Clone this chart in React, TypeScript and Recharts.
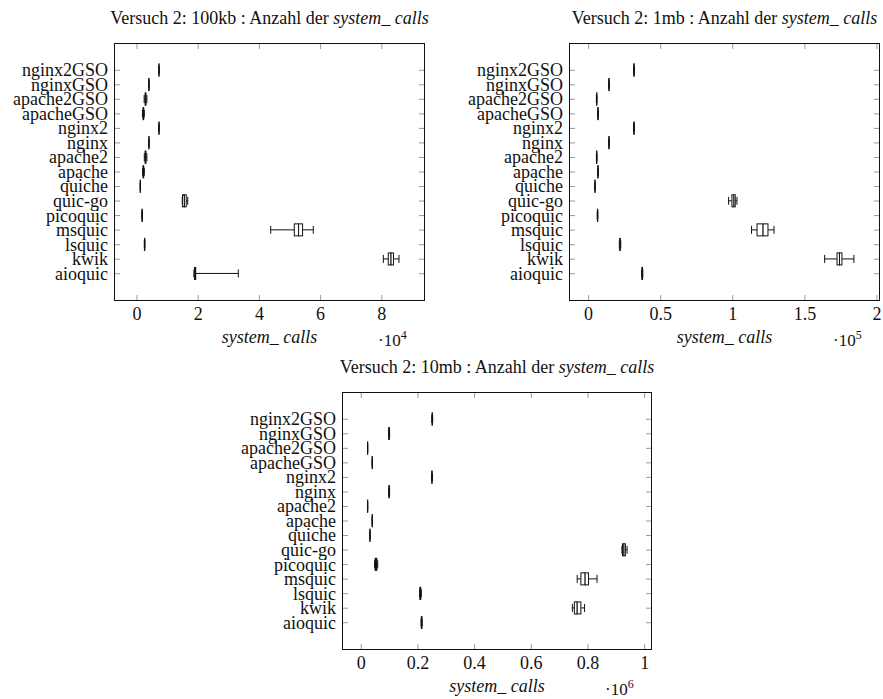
import { ComposedChart, Bar, XAxis, YAxis } from 'recharts'

const categories = [
  'nginx2GSO', 'nginxGSO', 'apache2GSO', 'apacheGSO', 'nginx2', 'nginx', 'apache2',
  'apache', 'quiche', 'quic-go', 'picoquic', 'msquic', 'lsquic', 'kwik', 'aioquic',
]

// min, q1, median, q3, max (same order as categories)
const calls100kb = [
  [7150, 7180, 7200, 7220, 7250],
  [3850, 3880, 3900, 3920, 3950],
  [2350, 2650, 2800, 2950, 3250],
  [1800, 2000, 2100, 2200, 2400],
  [7150, 7180, 7200, 7230, 7260],
  [3860, 3890, 3910, 3930, 3960],
  [2400, 2650, 2800, 2950, 3250],
  [1850, 2000, 2100, 2200, 2400],
  [1050, 1080, 1100, 1120, 1150],
  [14800, 14900, 15500, 16100, 16600],
  [1600, 1650, 1700, 1750, 1800],
  [43700, 51400, 52800, 54100, 57600],
  [2400, 2450, 2500, 2550, 2600],
  [80500, 82100, 83000, 83800, 85600],
  [18600, 18800, 18900, 19200, 33100],
]

const calls1mb = [
  [31200, 31350, 31500, 31650, 31800],
  [13900, 14000, 14100, 14200, 14300],
  [5400, 5500, 5600, 5700, 5800],
  [6300, 6400, 6500, 6600, 6700],
  [31200, 31350, 31500, 31650, 31800],
  [13900, 14000, 14100, 14200, 14300],
  [5400, 5500, 5600, 5700, 5800],
  [6300, 6400, 6500, 6600, 6700],
  [4300, 4350, 4400, 4450, 4500],
  [97100, 99400, 100800, 101700, 102900],
  [6000, 6100, 6200, 6300, 6400],
  [113000, 116800, 121000, 124400, 128600],
  [21300, 21600, 21800, 22000, 22300],
  [163700, 172300, 174000, 175700, 184000],
  [36800, 37000, 37200, 37400, 37600],
]

const calls10mb = [
  [249000, 250000, 250600, 251200, 252000],
  [96000, 97000, 98000, 99000, 100000],
  [21900, 22200, 22400, 22600, 22900],
  [38300, 38600, 38800, 39000, 39300],
  [248000, 249000, 249500, 250000, 251000],
  [96500, 97500, 98300, 99000, 100000],
  [21900, 22200, 22400, 22600, 22900],
  [38300, 38600, 38800, 39000, 39300],
  [30100, 30400, 30600, 30800, 31100],
  [920000, 922000, 927000, 932000, 938000],
  [47000, 49000, 52000, 55000, 58000],
  [762000, 775000, 790000, 802000, 832000],
  [206000, 207000, 208000, 210000, 212000],
  [745000, 752000, 762000, 775000, 788000],
  [211000, 212000, 213000, 214000, 215000],
]

const ticks100kb = [0, 20000, 40000, 60000, 80000]
const ticks1mb = [0, 50000, 100000, 150000, 200000]
const ticks10mb = [0, 200000, 400000, 600000, 800000, 1000000]

const FONT = "'Liberation Serif', 'Times New Roman', serif"
const INK = '#111'
const TICK = '#999'

function toRows(stats: number[][]) {
  return categories.map((name, i) => {
    const [min, q1, med, q3, max] = stats[i]
    return {
      name,
      base: min,
      lowWhisker: q1 - min,
      lowBox: med - q1,
      highBox: q3 - med,
      highWhisker: max - q3,
    }
  })
}

const whisker = (side: 'low' | 'high') => (props: any) => {
  const { x, y, width, height } = props
  const cy = y + height / 2
  const capX = side === 'low' ? x : x + width
  return (
    <g>
      <line x1={x} x2={x + width} y1={cy} y2={cy} stroke={INK} strokeWidth={1} />
      <line x1={capX} x2={capX} y1={cy - 4} y2={cy + 4} stroke={INK} strokeWidth={1} />
    </g>
  )
}

const boxPart = (props: any) => {
  const { x, y, width, height } = props
  return <rect x={x} y={y} width={width} height={height} fill="#fff" stroke={INK} strokeWidth={1} />
}

interface Frame { l: number; r: number; t: number; b: number }

interface PanelProps {
  title: string
  stats: number[][]
  ticks: number[]
  domain: [number, number]
  exp: number
  left: number
  top: number
  width: number
  height: number
  frame: Frame
}

function Panel({ title, stats, ticks, domain, exp, left, top, width, height, frame }: PanelProps) {
  const rows = toRows(stats)
  const div = Math.pow(10, exp)
  const cx = left + (frame.l + frame.r) / 2

  const xTick = (props: any) => {
    const { x, payload } = props
    const label = String(parseFloat((payload.value / div).toFixed(3)))
    return (
      <g>
        <line x1={x} x2={x} y1={frame.t} y2={frame.t + 6} stroke={TICK} />
        <line x1={x} x2={x} y1={frame.b - 6} y2={frame.b} stroke={TICK} />
        <text x={x} y={frame.b + 13} dy="0.35em" textAnchor="middle" fontFamily={FONT} fontSize={18} fill={INK}>
          {label}
        </text>
      </g>
    )
  }

  const yTick = (props: any) => {
    const { y, payload } = props
    return (
      <g>
        <line x1={frame.l} x2={frame.l + 6} y1={y} y2={y} stroke={TICK} />
        <line x1={frame.r - 6} x2={frame.r} y1={y} y2={y} stroke={TICK} />
        <text x={frame.l - 6} y={y} dy="0.33em" textAnchor="end" fontFamily={FONT} fontSize={18} fill={INK}>
          {payload.value}
        </text>
      </g>
    )
  }

  return (
    <>
      <div style={{ position: 'absolute', left, top, width, height }}>
        <ComposedChart
          layout="vertical"
          width={width}
          height={height}
          data={rows}
          margin={{ top: frame.t, right: width - frame.r, bottom: 0, left: 0 }}
        >
          <XAxis
            type="number"
            domain={domain}
            allowDataOverflow
            ticks={ticks}
            interval={0}
            height={height - frame.b}
            axisLine={false}
            tickLine={false}
            tick={xTick}
          />
          <YAxis
            type="category"
            dataKey="name"
            width={frame.l}
            padding={{ top: 20, bottom: 20 }}
            interval={0}
            axisLine={false}
            tickLine={false}
            tick={yTick}
          />
          <Bar dataKey="base" stackId="b" barSize={12} shape={() => <g />} isAnimationActive={false} />
          <Bar dataKey="lowWhisker" stackId="b" barSize={12} shape={whisker('low')} isAnimationActive={false} />
          <Bar dataKey="lowBox" stackId="b" barSize={12} shape={boxPart} isAnimationActive={false} />
          <Bar dataKey="highBox" stackId="b" barSize={12} shape={boxPart} isAnimationActive={false} />
          <Bar dataKey="highWhisker" stackId="b" barSize={12} shape={whisker('high')} isAnimationActive={false} />
        </ComposedChart>
      </div>
      <div
        style={{
          position: 'absolute',
          left: left + frame.l,
          top: top + frame.t,
          width: frame.r - frame.l,
          height: frame.b - frame.t,
          border: `1px solid ${INK}`,
          boxSizing: 'border-box',
          pointerEvents: 'none',
        }}
      />
      <div
        style={{
          position: 'absolute', left: cx - 250, width: 500, top: top + frame.t - 35,
          lineHeight: '20px', textAlign: 'center', fontFamily: FONT, fontSize: 18, color: INK,
          whiteSpace: 'nowrap',
        }}
      >
        {title}<i>system_ calls</i>
      </div>
      <div
        style={{
          position: 'absolute', left: cx - 100, width: 200, top: top + frame.b + 26,
          lineHeight: '20px', textAlign: 'center', fontFamily: FONT, fontSize: 18, color: INK,
        }}
      >
        <i>system_ calls</i>
      </div>
      <div
        style={{
          position: 'absolute', left: left + frame.r - 47, top: top + frame.b + 30,
          lineHeight: '20px', fontFamily: FONT, fontSize: 17, color: INK, whiteSpace: 'nowrap',
        }}
      >
        ·10<span style={{ fontSize: 12, position: 'relative', top: -7 }}>{exp}</span>
      </div>
    </>
  )
}

export default function App() {
  return (
    <div
      style={{
        position: 'absolute', left: 0, top: 0, width: 883, height: 699,
        overflow: 'hidden', background: '#fff',
      }}
    >
      <Panel
        title="Versuch 2: 100kb : Anzahl der "
        stats={calls100kb}
        ticks={ticks100kb}
        domain={[-7500, 94100]}
        exp={4}
        left={0}
        top={0}
        width={441}
        height={345}
        frame={{ l: 114, r: 425, t: 43, b: 301 }}
      />
      <Panel
        title="Versuch 2: 1mb : Anzahl der "
        stats={calls1mb}
        ticks={ticks1mb}
        domain={[-13600, 202100]}
        exp={5}
        left={441}
        top={0}
        width={442}
        height={345}
        frame={{ l: 128, r: 439, t: 43, b: 301 }}
      />
      <Panel
        title="Versuch 2: 10mb : Anzahl der "
        stats={calls10mb}
        ticks={ticks10mb}
        domain={[-68000, 1026000]}
        exp={6}
        left={200}
        top={345}
        width={480}
        height={354}
        frame={{ l: 142, r: 452, t: 47, b: 305 }}
      />
    </div>
  )
}
